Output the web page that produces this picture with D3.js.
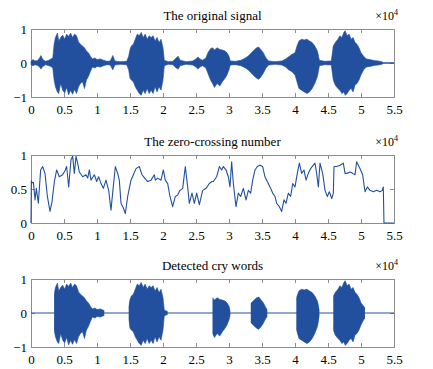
<!DOCTYPE html>
<html>
<head>
<meta charset="UTF-8">
<title>Cry word detection</title>
<script src="https://d3js.org/d3.v7.min.js"></script>
<style>
  body { margin: 0; background: #fff; }
</style>
</head>
<body>
<svg id="chart" width="433" height="369"></svg>
<script>
// x axis ticks (×10^4 samples)
const xTicks = [0, 0.5, 1, 1.5, 2, 2.5, 3, 3.5, 4, 4.5, 5, 5.5];

// envelope of the original signal
const waveTime = [0.00,0.03,0.06,0.10,0.13,0.15,0.18,0.22,0.27,0.30,0.33,0.35,0.37,0.40,0.42,0.45,0.48,0.51,0.54,0.57,
  0.60,0.63,0.66,0.69,0.72,0.75,0.78,0.81,0.84,0.87,0.90,0.93,0.97,1.00,1.05,1.10,1.15,1.20,1.24,1.27,
  1.35,1.45,1.48,1.50,1.52,1.55,1.58,1.61,1.64,1.67,1.70,1.73,1.76,1.79,1.82,1.85,1.88,1.91,1.94,1.97,
  2.00,2.02,2.08,2.15,2.20,2.23,2.26,2.35,2.45,2.50,2.53,2.56,2.60,2.65,2.68,2.72,2.75,2.78,2.82,2.86,
  2.90,2.94,2.97,3.00,3.02,3.10,3.18,3.22,3.26,3.30,3.34,3.38,3.42,3.45,3.48,3.52,3.56,3.60,3.70,3.80,
  3.86,3.90,3.95,4.00,4.03,4.06,4.10,4.14,4.18,4.22,4.26,4.30,4.34,4.37,4.45,4.55,4.58,4.61,4.65,4.68,
  4.71,4.74,4.76,4.79,4.82,4.85,4.88,4.91,4.94,4.97,5.00,5.04,5.08,5.14,5.20,5.26,5.32,5.34,5.50];
const waveUpper = [0.05,0.10,0.06,0.07,0.15,0.22,0.10,0.05,0.08,0.12,0.15,0.55,0.75,0.88,0.65,0.75,0.82,0.70,0.85,0.78,
  0.88,0.75,0.85,0.80,0.62,0.55,0.50,0.45,0.35,0.30,0.20,0.12,0.15,0.10,0.12,0.08,0.05,0.06,0.22,0.06,
  0.04,0.05,0.20,0.40,0.50,0.55,0.70,0.85,0.80,0.90,0.75,0.85,0.70,0.80,0.75,0.80,0.65,0.75,0.60,0.70,
  0.45,0.08,0.04,0.05,0.15,0.20,0.08,0.04,0.06,0.12,0.18,0.12,0.08,0.15,0.30,0.42,0.45,0.38,0.45,0.40,
  0.38,0.35,0.30,0.20,0.06,0.05,0.08,0.12,0.16,0.22,0.30,0.38,0.45,0.47,0.40,0.30,0.15,0.06,0.04,0.06,
  0.12,0.18,0.25,0.30,0.50,0.65,0.70,0.68,0.70,0.65,0.60,0.50,0.35,0.08,0.05,0.06,0.50,0.60,0.70,0.80,
  0.75,0.90,0.95,0.80,0.85,0.70,0.75,0.60,0.55,0.45,0.30,0.20,0.12,0.10,0.07,0.06,0.04,0.00,0.00];
const waveLower = [-0.05,-0.08,-0.05,-0.07,-0.12,-0.18,-0.10,-0.05,-0.08,-0.10,-0.15,-0.50,-0.70,-0.85,-0.90,-0.60,-0.80,-0.88,-0.72,-0.94,
  -0.80,-0.92,-0.78,-0.90,-0.70,-0.60,-0.55,-0.75,-0.50,-0.40,-0.25,-0.12,-0.15,-0.10,-0.12,-0.08,-0.05,-0.06,-0.20,-0.06,
  -0.04,-0.05,-0.20,-0.45,-0.50,-0.55,-0.70,-0.80,-0.90,-0.95,-0.80,-0.90,-0.75,-0.90,-0.80,-0.90,-0.70,-0.85,-0.70,-0.80,
  -0.50,-0.08,-0.04,-0.05,-0.15,-0.18,-0.08,-0.04,-0.06,-0.12,-0.18,-0.12,-0.08,-0.15,-0.30,-0.50,-0.60,-0.72,-0.60,-0.68,
  -0.55,-0.45,-0.35,-0.20,-0.06,-0.05,-0.08,-0.12,-0.16,-0.22,-0.30,-0.38,-0.45,-0.48,-0.42,-0.30,-0.15,-0.06,-0.04,-0.06,
  -0.12,-0.20,-0.25,-0.35,-0.55,-0.75,-0.80,-0.85,-0.90,-0.85,-0.75,-0.60,-0.40,-0.08,-0.05,-0.06,-0.50,-0.65,-0.75,-0.80,
  -0.90,-0.85,-0.95,-0.90,-0.80,-0.75,-0.85,-0.65,-0.60,-0.50,-0.35,-0.20,-0.12,-0.10,-0.07,-0.06,-0.04,0.00,0.00];

// zero-crossing number (normalised)
const zcTime = [0.000,0.005,0.015,0.036,0.061,0.081,0.111,0.146,0.177,0.212,0.247,0.288,0.318,0.354,0.389,0.429,0.480,0.520,0.540,0.571,
  0.606,0.631,0.657,0.682,0.707,0.732,0.783,0.833,0.859,0.884,0.909,0.960,0.995,1.025,1.061,1.096,1.136,1.177,1.212,1.237,
  1.278,1.313,1.338,1.364,1.399,1.429,1.465,1.515,1.551,1.591,1.641,1.682,1.722,1.768,1.818,1.869,1.884,1.919,1.970,2.005,
  2.035,2.071,2.106,2.146,2.187,2.222,2.258,2.298,2.338,2.374,2.399,2.439,2.475,2.510,2.551,2.601,2.652,2.702,2.742,2.763,
  2.813,2.854,2.889,2.914,2.955,2.990,3.015,3.040,3.066,3.106,3.141,3.177,3.217,3.258,3.293,3.328,3.359,3.394,3.429,3.470,
  3.510,3.545,3.581,3.621,3.662,3.697,3.722,3.763,3.798,3.833,3.864,3.899,3.934,3.965,4.000,4.035,4.066,4.101,4.136,4.167,
  4.202,4.237,4.278,4.303,4.328,4.354,4.379,4.419,4.455,4.490,4.520,4.556,4.581,4.591,4.631,4.682,4.732,4.758,4.793,4.833,
  4.874,4.909,4.934,4.960,4.995,5.025,5.061,5.096,5.136,5.187,5.237,5.288,5.323,5.338,5.348,5.500];
const zcValue = [0.00,0.62,0.59,0.60,0.34,0.51,0.29,0.78,0.83,0.73,0.40,0.17,0.31,0.61,0.78,0.68,0.71,0.78,0.83,0.53,
  0.93,0.98,0.73,0.98,0.88,0.75,0.68,0.71,0.66,0.78,0.63,0.71,0.61,0.68,0.58,0.51,0.63,0.48,0.19,0.44,
  0.83,0.73,0.63,0.29,0.22,0.14,0.39,0.63,0.71,0.80,0.83,0.71,0.66,0.61,0.63,0.71,0.63,0.66,0.63,0.78,
  0.63,0.58,0.39,0.24,0.39,0.41,0.48,0.51,0.83,0.53,0.29,0.44,0.29,0.44,0.27,0.48,0.51,0.58,0.61,0.61,
  0.68,0.83,0.78,0.83,0.78,0.68,0.53,0.90,0.58,0.24,0.44,0.39,0.51,0.34,0.48,0.44,0.63,0.78,0.83,0.85,
  0.83,0.68,0.61,0.53,0.44,0.39,0.29,0.24,0.17,0.34,0.29,0.44,0.39,0.58,0.53,0.73,0.88,0.73,0.78,0.63,
  0.73,0.80,0.85,0.88,0.73,0.53,0.88,0.73,0.48,0.39,0.46,0.36,0.44,0.83,0.83,0.85,0.88,0.73,0.73,0.75,
  0.73,0.71,0.90,0.85,0.78,0.71,0.46,0.53,0.48,0.46,0.48,0.46,0.48,0.53,0.00,0.00];

// detected cry word segments
const cryStart = [0.35, 1.48, 2.75, 3.33, 4.02, 4.58];
const cryEnd   = [1.11, 2.07, 3.02, 3.58, 4.37, 5.06];

const titles = ["The original signal", "The zero-crossing number", "Detected cry words"];

const blue = "#22509e";
const frame = "#8c8c8c";
const serif = "Liberation Serif";
const left = 31, right = 394, ph = 68;
const tops = [29, 155, 279];

const svg = d3.select("#chart");
const x = d3.scaleLinear().domain([0, 5.5]).range([left, right]);

function panel(i, yDomain, yTicks, yFmt) {
  const top = tops[i];
  const y = d3.scaleLinear().domain(yDomain).range([top + ph, top]);
  const g = svg.append("g");

  // axes: bottom with labels, top/left/right inward ticks only
  const bottom = g.append("g").attr("transform", `translate(0,${top + ph})`)
    .call(d3.axisBottom(x).tickValues(xTicks).tickSize(-4).tickPadding(5).tickFormat(d3.format("")));
  g.append("g").attr("transform", `translate(0,${top})`)
    .call(d3.axisTop(x).tickValues(xTicks).tickSize(-4).tickFormat(""));
  g.append("g").attr("transform", `translate(${left},0)`)
    .call(d3.axisLeft(y).tickValues(yTicks).tickSize(-4).tickPadding(4).tickFormat(yFmt));
  g.append("g").attr("transform", `translate(${right},0)`)
    .call(d3.axisRight(y).tickValues(yTicks).tickSize(-4).tickFormat(""));

  g.selectAll("g").attr("font-family", serif).attr("font-size", 13);
  g.selectAll(".domain").attr("stroke", frame);
  g.selectAll(".tick line").attr("stroke", frame);
  g.selectAll(".tick text").attr("fill", "#000");
  bottom.selectAll(".tick text").attr("dy", "0.9em");

  g.append("text").attr("x", (left + right) / 2).attr("y", top - 9)
    .attr("text-anchor", "middle").attr("font-family", serif).attr("font-size", 13).text(titles[i]);
  const ex = g.append("text").attr("x", 398).attr("y", top - 9)
    .attr("text-anchor", "end").attr("font-family", serif).attr("font-size", 12);
  ex.append("tspan").text("×10");
  ex.append("tspan").attr("dy", "-5").attr("font-size", 8).text("4");

  return { g, y };
}

const minus = d => d < 0 ? "\u2212" + Math.abs(d) : String(d);

// panel 1: original signal
const waveData = waveTime.map((t, k) => ({ t, hi: waveUpper[k], lo: waveLower[k] }));
{
  const { g, y } = panel(0, [-1, 1], [-1, 0, 1], minus);
  g.append("line").attr("x1", x(0)).attr("x2", x(5.5)).attr("y1", y(0)).attr("y2", y(0))
    .attr("stroke", blue).attr("stroke-width", 1);
  g.append("path").datum(waveData)
    .attr("d", d3.area().x(d => x(d.t)).y0(d => y(d.lo)).y1(d => y(d.hi)))
    .attr("fill", blue).attr("stroke", blue).attr("stroke-width", 0.6);
}

// panel 2: zero-crossing number
{
  const { g, y } = panel(1, [0, 1], [0, 0.5, 1], d3.format(""));
  g.append("path").datum(zcTime.map((t, k) => [t, zcValue[k]]))
    .attr("d", d3.line().x(d => x(d[0])).y(d => y(d[1])))
    .attr("fill", "none").attr("stroke", blue).attr("stroke-width", 1.1)
    .attr("stroke-linejoin", "round");
}

// panel 3: detected words (original signal masked by segments)
{
  const { g, y } = panel(2, [-1, 1], [-1, 0, 1], minus);
  const clip = svg.append("defs").append("clipPath").attr("id", "cry");
  cryStart.forEach((s, k) => {
    clip.append("rect").attr("x", x(s)).attr("width", x(cryEnd[k]) - x(s))
      .attr("y", tops[2]).attr("height", ph);
  });
  g.append("line").attr("x1", x(0)).attr("x2", x(5.5)).attr("y1", y(0)).attr("y2", y(0))
    .attr("stroke", blue).attr("stroke-width", 1);
  g.append("path").datum(waveData)
    .attr("clip-path", "url(#cry)")
    .attr("d", d3.area().x(d => x(d.t)).y0(d => y(d.lo)).y1(d => y(d.hi)))
    .attr("fill", blue).attr("stroke", blue).attr("stroke-width", 0.6);
}
</script>
</body>
</html>
